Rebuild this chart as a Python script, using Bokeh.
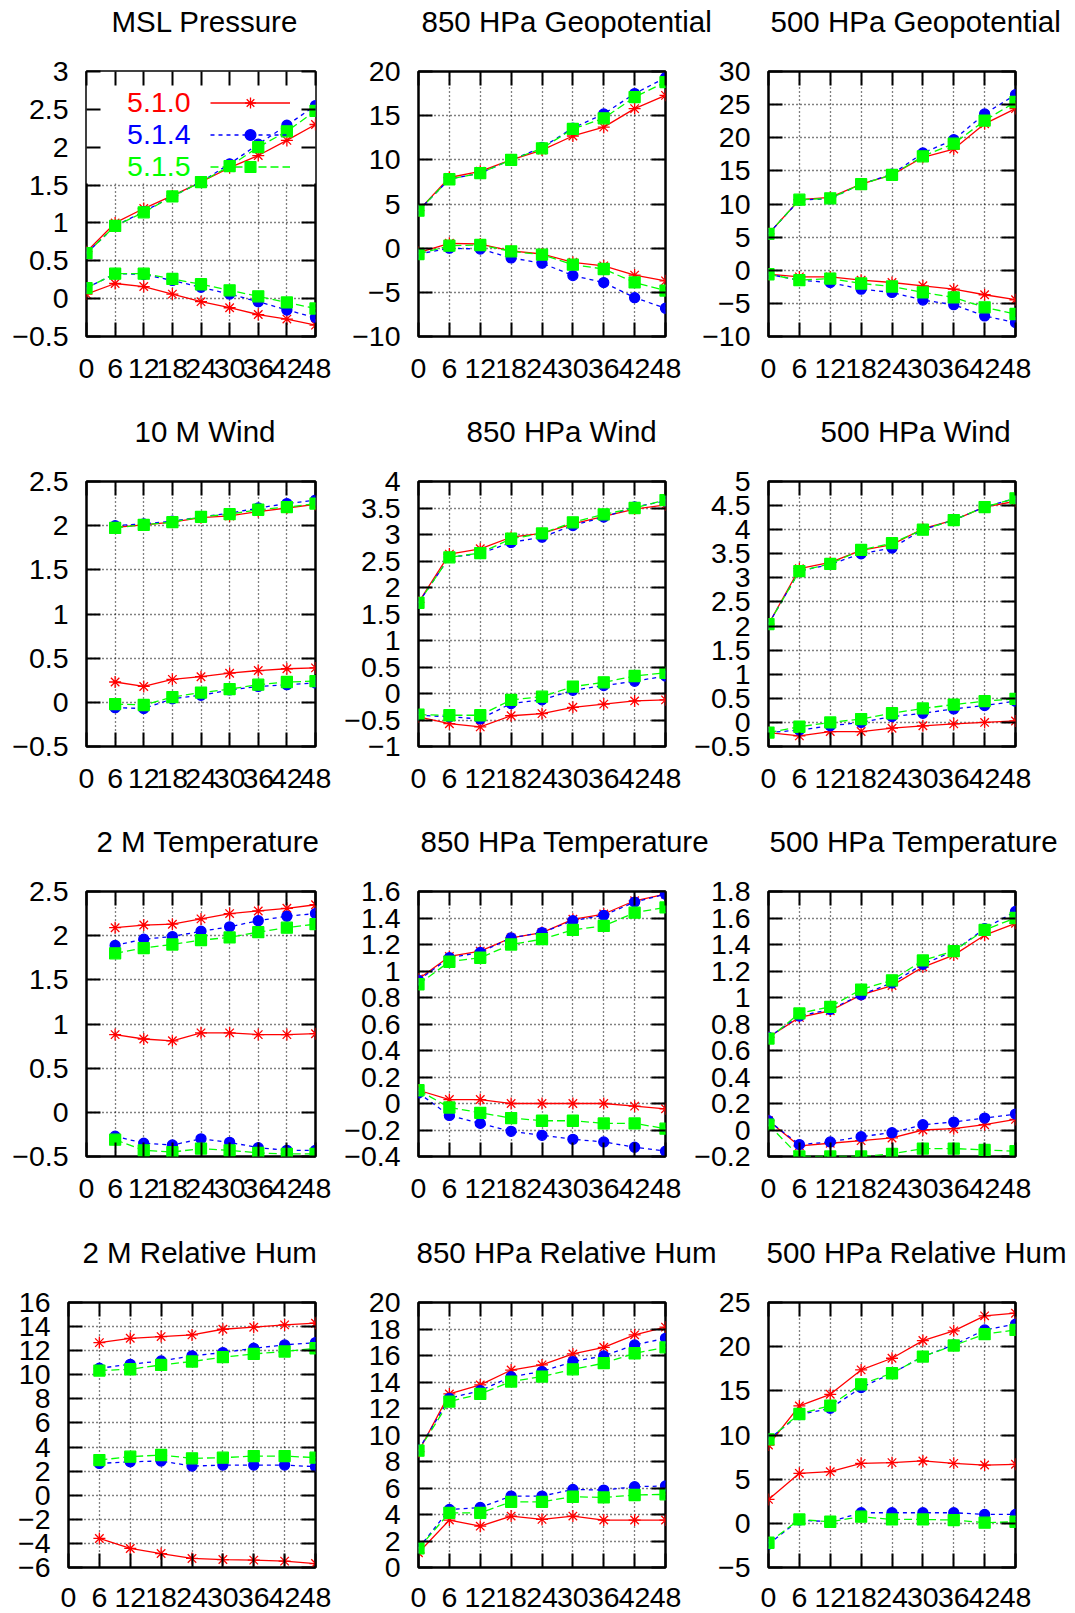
from bokeh.plotting import figure
from bokeh.layouts import row, column
from bokeh.models import (Range1d, FixedTicker, LinearAxis, CustomJSTickFormatter, Label,
                          Legend, LegendItem, BoxAnnotation, AllLabels)
from bokeh.core.properties import value
from bokeh.embed import file_html
from bokeh.resources import INLINE

FONT = "Liberation Sans"
RED, BLUE, GREEN = "#ff0000", "#0000ff", "#00ff00"

# ---------------- data ----------------
hours = [0, 6, 12, 18, 24, 30, 36, 42, 48]
hours_from6 = [6, 12, 18, 24, 30, 36, 42, 48]
x_tick_labels = ["0", "6", "12", "18", "24", "30", "36", "42", "48"]
versions = ["5.1.0", "5.1.4", "5.1.5"]

# MSL Pressure (upper, lower)
mslp_510 = ([0.62, 1.00, 1.19, 1.36, 1.54, 1.73, 1.89, 2.09, 2.30],
            [0.06, 0.20, 0.16, 0.06, -0.04, -0.12, -0.21, -0.27, -0.35])
mslp_514 = ([0.60, 0.96, 1.15, 1.35, 1.54, 1.78, 2.04, 2.29, 2.55],
            [0.14, 0.33, 0.32, 0.24, 0.15, 0.06, -0.04, -0.15, -0.25])
mslp_515 = ([0.60, 0.96, 1.14, 1.35, 1.54, 1.75, 2.00, 2.21, 2.48],
            [0.14, 0.33, 0.33, 0.26, 0.19, 0.11, 0.03, -0.05, -0.13])

# 850 HPa Geopotential
z850_510 = ([4.25, 8.0, 8.7, 10.0, 11.1, 12.7, 13.7, 15.8, 17.3],
            [-0.5, 0.55, 0.47, -0.3, -0.66, -1.6, -2.0, -3.05, -3.7])
z850_514 = ([4.25, 7.8, 8.5, 10.0, 11.4, 13.6, 15.2, 17.5, 19.3],
            [-0.66, 0.0, -0.1, -1.1, -1.7, -3.1, -3.9, -5.6, -6.8])
z850_515 = ([4.25, 7.8, 8.5, 10.0, 11.3, 13.5, 14.7, 17.1, 18.8],
            [-0.66, 0.28, 0.36, -0.36, -0.74, -1.87, -2.36, -3.88, -4.8])

# 500 HPa Geopotential
z500_510 = ([5.5, 10.65, 11.0, 13.0, 14.4, 17.05, 18.3, 22.1, 24.4],
            [-0.6, -1.0, -1.0, -1.5, -1.85, -2.35, -2.85, -3.7, -4.45])
z500_514 = ([5.5, 10.6, 10.8, 13.0, 14.5, 17.7, 19.7, 23.6, 26.5],
            [-0.6, -1.5, -1.85, -2.85, -3.35, -4.5, -5.2, -6.9, -7.9])
z500_515 = ([5.5, 10.65, 10.85, 13.0, 14.4, 17.2, 19.1, 22.6, 25.4],
            [-0.6, -1.5, -1.25, -2.0, -2.45, -3.35, -4.1, -5.6, -6.6])

# 10 M Wind (from 6 h)
w10_510 = ([1.98, 2.01, 2.04, 2.09, 2.11, 2.16, 2.20, 2.24],
           [0.23, 0.18, 0.26, 0.29, 0.33, 0.36, 0.38, 0.39])
w10_514 = ([2.00, 2.02, 2.05, 2.10, 2.14, 2.20, 2.25, 2.29],
           [-0.06, -0.07, 0.04, 0.08, 0.14, 0.18, 0.20, 0.22])
w10_515 = ([1.975, 2.01, 2.04, 2.10, 2.13, 2.18, 2.21, 2.25],
           [-0.02, -0.03, 0.06, 0.11, 0.15, 0.20, 0.23, 0.24])

# 850 HPa Wind
w850_510 = ([1.72, 2.63, 2.73, 2.95, 3.02, 3.20, 3.34, 3.48, 3.56],
            [-0.44, -0.57, -0.63, -0.42, -0.38, -0.26, -0.20, -0.14, -0.12])
w850_514 = ([1.71, 2.57, 2.64, 2.85, 2.95, 3.17, 3.33, 3.52, 3.63],
            [-0.41, -0.44, -0.48, -0.19, -0.12, 0.06, 0.15, 0.23, 0.33])
w850_515 = ([1.71, 2.57, 2.65, 2.92, 3.02, 3.23, 3.38, 3.50, 3.65],
            [-0.40, -0.41, -0.41, -0.12, -0.06, 0.13, 0.21, 0.33, 0.39])

# 500 HPa Wind
w500_510 = ([2.04, 3.19, 3.32, 3.57, 3.69, 4.02, 4.20, 4.47, 4.59],
            [-0.21, -0.28, -0.19, -0.19, -0.12, -0.07, -0.03, 0.00, 0.03])
w500_514 = ([2.04, 3.14, 3.28, 3.50, 3.62, 4.00, 4.20, 4.47, 4.65],
            [-0.21, -0.16, -0.07, 0.00, 0.12, 0.19, 0.28, 0.35, 0.44])
w500_515 = ([2.04, 3.14, 3.29, 3.58, 3.72, 4.00, 4.20, 4.47, 4.65],
            [-0.21, -0.09, 0.00, 0.07, 0.19, 0.29, 0.37, 0.44, 0.49])

# 2 M Temperature (from 6 h)
t2m_510 = ([2.09, 2.12, 2.13, 2.19, 2.25, 2.28, 2.31, 2.35],
           [0.88, 0.83, 0.81, 0.90, 0.90, 0.88, 0.88, 0.89])
t2m_514 = ([1.89, 1.96, 1.99, 2.05, 2.10, 2.17, 2.22, 2.25],
           [-0.27, -0.35, -0.37, -0.30, -0.34, -0.40, -0.43, -0.43])
t2m_515 = ([1.80, 1.86, 1.90, 1.95, 1.98, 2.04, 2.09, 2.13],
           [-0.31, -0.43, -0.45, -0.41, -0.43, -0.46, -0.47, -0.47])

# 850 HPa Temperature
t850_510 = ([0.94, 1.11, 1.15, 1.25, 1.29, 1.39, 1.43, 1.53, 1.58],
            [0.10, 0.03, 0.03, 0.00, 0.00, 0.00, 0.00, -0.02, -0.04])
t850_514 = ([0.93, 1.10, 1.14, 1.25, 1.29, 1.38, 1.42, 1.52, 1.58],
            [0.08, -0.09, -0.15, -0.21, -0.24, -0.27, -0.29, -0.33, -0.36])
t850_515 = ([0.90, 1.07, 1.10, 1.20, 1.24, 1.31, 1.34, 1.44, 1.48],
            [0.10, -0.03, -0.07, -0.11, -0.13, -0.13, -0.15, -0.15, -0.19])

# 500 HPa Temperature
t500_510 = ([0.70, 0.85, 0.90, 1.02, 1.09, 1.23, 1.32, 1.47, 1.56],
            [0.07, -0.12, -0.10, -0.08, -0.06, 0.00, 0.01, 0.04, 0.08])
t500_514 = ([0.70, 0.86, 0.91, 1.02, 1.11, 1.25, 1.35, 1.52, 1.65],
            [0.07, -0.11, -0.09, -0.05, -0.02, 0.04, 0.06, 0.09, 0.12])
t500_515 = ([0.69, 0.88, 0.93, 1.06, 1.13, 1.28, 1.35, 1.51, 1.60],
            [0.04, -0.20, -0.20, -0.20, -0.18, -0.14, -0.14, -0.15, -0.16])

# 2 M Relative Hum (from 6 h)
rh2m_510 = ([12.67, 13.03, 13.17, 13.31, 13.78, 13.95, 14.14, 14.28],
            [-3.59, -4.42, -4.84, -5.25, -5.34, -5.39, -5.47, -5.67])
rh2m_514 = ([10.54, 10.87, 11.15, 11.57, 11.84, 12.20, 12.48, 12.67],
            [2.64, 2.78, 2.84, 2.42, 2.50, 2.50, 2.50, 2.37])
rh2m_515 = ([10.35, 10.46, 10.82, 11.10, 11.46, 11.73, 11.93, 12.20],
            [2.92, 3.20, 3.34, 3.06, 3.12, 3.25, 3.25, 3.12])

# 850 HPa Relative Hum
rh850_510 = ([8.74, 13.10, 13.78, 14.90, 15.29, 16.12, 16.62, 17.56, 18.14],
             [1.11, 3.58, 3.12, 3.88, 3.63, 3.88, 3.58, 3.58, 3.58])
rh850_514 = ([8.87, 12.77, 13.35, 14.40, 14.79, 15.54, 15.97, 16.80, 17.30],
             [1.44, 4.38, 4.53, 5.39, 5.39, 5.89, 5.84, 6.10, 6.15])
rh850_515 = ([8.82, 12.52, 13.10, 14.03, 14.41, 14.96, 15.42, 16.17, 16.62],
             [1.44, 4.13, 4.13, 4.96, 4.96, 5.34, 5.29, 5.47, 5.52])

# 500 HPa Relative Hum
rh500_510 = ([8.87, 13.29, 14.61, 17.37, 18.69, 20.69, 21.79, 23.49, 23.79],
             [2.71, 5.66, 5.85, 6.79, 6.87, 7.06, 6.79, 6.60, 6.68])
rh500_514 = ([9.50, 12.30, 13.02, 15.37, 16.99, 18.88, 20.20, 21.90, 22.54],
             [-2.35, 0.37, 0.18, 1.20, 1.20, 1.20, 1.20, 1.01, 1.01])
rh500_515 = ([9.51, 12.38, 13.33, 15.74, 16.99, 18.88, 20.13, 21.41, 21.90],
             [-2.20, 0.44, 0.18, 0.75, 0.44, 0.44, 0.37, 0.07, 0.18])

# y ticks and labels
yt_mslp = [-0.5, 0, 0.5, 1, 1.5, 2, 2.5, 3]
yl_mslp = "−0.5 0 0.5 1 1.5 2 2.5 3".split()
yt_z850 = [-10, -5, 0, 5, 10, 15, 20]
yl_z850 = "−10 −5 0 5 10 15 20".split()
yt_z500 = [-10, -5, 0, 5, 10, 15, 20, 25, 30]
yl_z500 = "−10 −5 0 5 10 15 20 25 30".split()
yt_w10 = [-0.5, 0, 0.5, 1, 1.5, 2, 2.5]
yl_w10 = "−0.5 0 0.5 1 1.5 2 2.5".split()
yt_w850 = [-1, -0.5, 0, 0.5, 1, 1.5, 2, 2.5, 3, 3.5, 4]
yl_w850 = "−1 −0.5 0 0.5 1 1.5 2 2.5 3 3.5 4".split()
yt_w500 = [-0.5, 0, 0.5, 1, 1.5, 2, 2.5, 3, 3.5, 4, 4.5, 5]
yl_w500 = "−0.5 0 0.5 1 1.5 2 2.5 3 3.5 4 4.5 5".split()
yt_t2m = [-0.5, 0, 0.5, 1, 1.5, 2, 2.5]
yl_t2m = "−0.5 0 0.5 1 1.5 2 2.5".split()
yt_t850 = [-0.4, -0.2, 0, 0.2, 0.4, 0.6, 0.8, 1, 1.2, 1.4, 1.6]
yl_t850 = "−0.4 −0.2 0 0.2 0.4 0.6 0.8 1 1.2 1.4 1.6".split()
yt_t500 = [-0.2, 0, 0.2, 0.4, 0.6, 0.8, 1, 1.2, 1.4, 1.6, 1.8]
yl_t500 = "−0.2 0 0.2 0.4 0.6 0.8 1 1.2 1.4 1.6 1.8".split()
yt_rh2m = [-6, -4, -2, 0, 2, 4, 6, 8, 10, 12, 14, 16]
yl_rh2m = "−6 −4 −2 0 2 4 6 8 10 12 14 16".split()
yt_rh850 = [0, 2, 4, 6, 8, 10, 12, 14, 16, 18, 20]
yl_rh850 = "0 2 4 6 8 10 12 14 16 18 20".split()
yt_rh500 = [-5, 0, 5, 10, 15, 20, 25]
yl_rh500 = "−5 0 5 10 15 20 25".split()

panels = [
    ("MSL Pressure", hours, yt_mslp, yl_mslp, [mslp_510, mslp_514, mslp_515], 25),
    ("850 HPa Geopotential", hours, yt_z850, yl_z850, [z850_510, z850_514, z850_515], 3),
    ("500 HPa Geopotential", hours, yt_z500, yl_z500, [z500_510, z500_514, z500_515], 2),
    ("10 M Wind", hours_from6, yt_w10, yl_w10, [w10_510, w10_514, w10_515], 48),
    ("850 HPa Wind", hours, yt_w850, yl_w850, [w850_510, w850_514, w850_515], 48),
    ("500 HPa Wind", hours, yt_w500, yl_w500, [w500_510, w500_514, w500_515], 52),
    ("2 M Temperature", hours_from6, yt_t2m, yl_t2m, [t2m_510, t2m_514, t2m_515], 10),
    ("850 HPa Temperature", hours, yt_t850, yl_t850, [t850_510, t850_514, t850_515], 2),
    ("500 HPa Temperature", hours, yt_t500, yl_t500, [t500_510, t500_514, t500_515], 1),
    ("2 M Relative Hum", hours_from6, yt_rh2m, yl_rh2m, [rh2m_510, rh2m_514, rh2m_515], 14),
    ("850 HPa Relative Hum", hours, yt_rh850, yl_rh850, [rh850_510, rh850_514, rh850_515], -2),
    ("500 HPa Relative Hum", hours, yt_rh500, yl_rh500, [rh500_510, rh500_514, rh500_515], -2),
]

STYLES = [
    dict(color=RED, dash="solid", marker="asterisk", size=12),
    dict(color=BLUE, dash="4 4", marker="circle", size=10),
    dict(color=GREEN, dash="8 4", marker="square", size=11),
]

# layout geometry: (canvas width, left border, frame width, left margin)
COLS = [(340, 86, 229, 0), (380, 78, 247, 0), (385, 78, 247, -30)]
# (canvas height, top border, frame height, x label standoff)
ROWS = [(400, 71, 265, 22), (410, 81, 265, 22), (410, 81, 265, 22), (393, 82, 265, 20)]
TITLE_GAP = 28


def style_axis(ax, ticks, standoff, labels=True):
    ax.ticker = FixedTicker(ticks=ticks)
    ax.axis_line_color = None
    ax.major_tick_in = 14
    ax.major_tick_out = 0
    ax.major_tick_line_color = "black"
    ax.major_tick_line_width = 2
    ax.minor_tick_line_color = None
    ax.major_label_text_font = FONT
    ax.major_label_text_color = "black"
    ax.major_label_policy = AllLabels()
    ax.major_label_standoff = standoff
    if labels:
        ax.major_label_text_font_size = "28.5px"
    else:
        ax.formatter = CustomJSTickFormatter(code="return ' '")
        ax.major_label_text_font_size = "1px"


def make_panel(i, spec):
    title, xs, yticks, ylabels, series, toff = spec
    r, c = divmod(i, 3)
    cw, bl, fw, ml = COLS[c]
    if i == 9:
        bl, fw = 68, 247
    rh, bt, fh, xstand = ROWS[r]
    ymin, ymax = yticks[0], yticks[-1]
    p = figure(width=cw, height=rh, x_range=Range1d(0, 48), y_range=Range1d(ymin, ymax),
               output_backend="svg", toolbar_location=None,
               min_border_left=bl, min_border_right=cw - bl - fw,
               min_border_top=bt, min_border_bottom=rh - bt - fh,
               margin=(0, 0, 0, ml))
    p.background_fill_color = "white"
    p.border_fill_alpha = 0
    p.outline_line_color = "black"
    p.outline_line_width = 2.5
    p.outline_line_alpha = 1

    p.title.text = title
    p.title.text_font = FONT
    p.title.text_font_size = "29.5px"
    p.title.text_font_style = "normal"
    p.title.text_color = "black"
    p.title.align = "left"
    p.title.offset = toff
    p.title.standoff = 4
    p.title.vertical_align = "bottom"

    xax, yax = p.xaxis[0], p.yaxis[0]
    style_axis(xax, hours, xstand)
    xax.major_label_overrides = dict(zip(hours, x_tick_labels))
    style_axis(yax, yticks, 18)
    yax.major_label_overrides = dict(zip(yticks, ylabels))
    top = LinearAxis()
    style_axis(top, hours, TITLE_GAP, labels=False)
    right = LinearAxis()
    style_axis(right, yticks, 0, labels=False)
    p.add_layout(top, "above")
    p.add_layout(right, "right")

    for g, ticks in ((p.xgrid[0], hours), (p.ygrid[0], yticks)):
        g.ticker = FixedTicker(ticks=ticks)
        g.grid_line_color = "black"
        g.grid_line_dash = "1 3"
        g.grid_line_width = 1.3
        g.grid_line_alpha = 1

    legend_renderers = []
    for (upper, lower), st in zip(series, STYLES):
        first = None
        for ys in (upper, lower):
            ln = p.line(xs, ys, line_color=st["color"], line_width=1.3, line_dash=st["dash"])
            sc = p.scatter(xs, ys, marker=st["marker"], size=st["size"],
                           line_color=st["color"], fill_color=st["color"], line_width=1.3)
            if first is None:
                first = [ln, sc]
        legend_renderers.append(first)

    if i == 0:
        box = BoxAnnotation(left=0, right=48, bottom=1.52, top=ymax, fill_color="white",
                            fill_alpha=1, line_color=None, level="underlay")
        p.add_layout(box)
        items = [LegendItem(label=value(" "), renderers=rs) for rs in legend_renderers]
        leg = Legend(items=items, location=(124, 156), glyph_width=80, glyph_height=27,
                     spacing=5, padding=0, margin=0, label_standoff=0, label_width=0,
                     label_height=0, label_text_font_size="1px",
                     background_fill_alpha=0, border_line_alpha=0)
        p.add_layout(leg)
        for k, (name, st) in enumerate(zip(versions, STYLES)):
            p.add_layout(Label(x=0, y=ymax, x_offset=104, y_offset=-31 - 32 * k, text=name,
                               text_font=FONT, text_font_size="28.5px", text_color=st["color"],
                               text_align="right", text_baseline="middle"))
    return p


figs = [make_panel(i, spec) for i, spec in enumerate(panels)]
layout = column([row(figs[3 * r:3 * r + 3]) for r in range(4)])

open("out.html", "w").write(file_html(layout, INLINE))
